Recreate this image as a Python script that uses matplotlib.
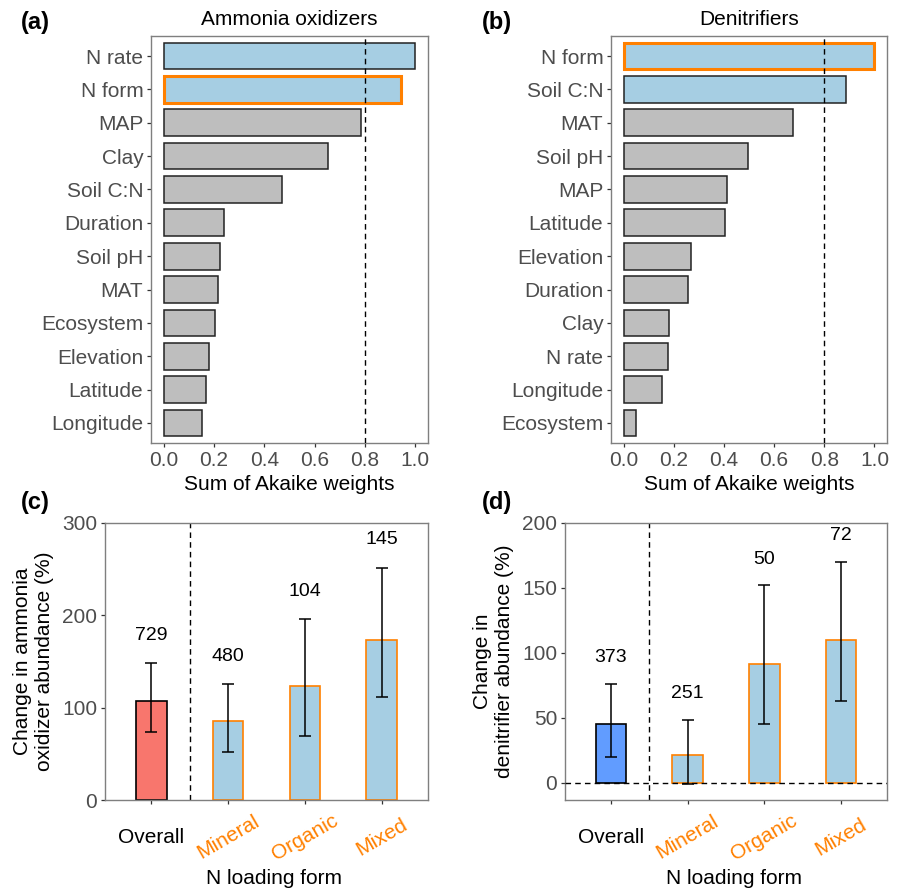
import matplotlib
matplotlib.use("Agg")
import matplotlib.pyplot as plt
import numpy as np

plt.rcParams['font.family'] = ['Liberation Sans', 'DejaVu Sans']

# ---------------- data ----------------
a_vars = ["N rate", "N form", "MAP", "Clay", "Soil C:N", "Duration", "Soil pH",
          "MAT", "Ecosystem", "Elevation", "Latitude", "Longitude"]
a_vals = [1.00, 0.943, 0.784, 0.654, 0.471, 0.241, 0.224, 0.216, 0.203, 0.180, 0.169, 0.154]

b_vars = ["N form", "Soil C:N", "MAT", "Soil pH", "MAP", "Latitude", "Elevation",
          "Duration", "Clay", "N rate", "Longitude", "Ecosystem"]
b_vals = [1.00, 0.885, 0.675, 0.498, 0.413, 0.406, 0.269, 0.258, 0.183, 0.176, 0.153, 0.049]

forms = ["Overall", "Mineral", "Organic", "Mixed"]
c_mean = [107.5, 85.9, 123.8, 173.0]
c_low = [73.3, 52.3, 69.3, 111.2]
c_high = [148.4, 125.3, 195.7, 251.6]
c_n = ["729", "480", "104", "145"]

d_mean = [45.0, 21.4, 91.4, 109.7]
d_low = [19.6, -0.5, 45.3, 63.1]
d_high = [76.5, 48.7, 152.0, 170.0]
d_n = ["373", "251", "50", "72"]

# ---------------- style ----------------
W, H = 901, 890
GREY = '#BEBEBE'
LBLUE = '#A6CEE3'
ORANGE = '#FF8000'
TICKC = '#4D4D4D'
SPINE = '#7F7F7F'
FS = 15

fig = plt.figure(figsize=(W / 100, H / 100), dpi=100)


def px_axes(x0, y0, x1, y1):
    return fig.add_axes([x0 / W, 1 - y1 / H, (x1 - x0) / W, (y1 - y0) / H])


def style_axes(ax):
    for s in ax.spines.values():
        s.set_color(SPINE)
        s.set_linewidth(1.0)
    ax.tick_params(length=3, width=0.9, color='#333333', labelcolor=TICKC,
                   labelsize=FS, pad=2.5)


def akaike_panel(ax, vars_, vals, title):
    pos = np.arange(len(vars_))
    colors = [LBLUE if v >= 0.8 else GREY for v in vals]
    bars = ax.barh(pos, vals, height=0.8, color=colors, edgecolor='#222222',
                   linewidth=1.1, zorder=2)
    for b, name in zip(bars, vars_):
        if name == "N form":
            b.set_edgecolor(ORANGE)
            b.set_linewidth(2.2)
            b.set_zorder(3)
    ax.axvline(0.8, color='black', linestyle=(0, (4, 3)), linewidth=1.0, zorder=4)
    ax.set_yticks(pos)
    ax.set_yticklabels(vars_)
    ax.set_ylim(len(vars_) - 0.4, -0.6)
    ax.set_xlim(-0.05, 1.05)
    ax.set_xticks([0, 0.2, 0.4, 0.6, 0.8, 1.0])
    ax.set_xticklabels(["0.0", "0.2", "0.4", "0.6", "0.8", "1.0"])
    style_axes(ax)
    ax.set_title(title, fontsize=FS, pad=8)
    ax.set_xlabel("Sum of Akaike weights", fontsize=FS)
    ax.xaxis.set_label_coords(0.5, -(485 - 443) / 407)
    ax.xaxis.label.set_va('center')


axa = px_axes(151, 36, 428, 443)
akaike_panel(axa, a_vars, a_vals, "Ammonia oxidizers")
axb = px_axes(611, 36, 887, 443)
akaike_panel(axb, b_vars, b_vals, "Denitrifiers")


def effect_panel(ax, mean, low, high, ns, overall_color, ylim, yticks, ylabel,
                 ylabel_x, zero_line):
    x = np.arange(len(forms))
    fc = [overall_color] + [LBLUE] * (len(forms) - 1)
    ec = ['black'] + [ORANGE] * (len(forms) - 1)
    ax.bar(x, mean, width=0.4, color=fc, edgecolor=ec, linewidth=1.2, zorder=2)
    yerr = [np.array(mean) - np.array(low), np.array(high) - np.array(mean)]
    ax.errorbar(x, mean, yerr=yerr, fmt='none', ecolor='black', elinewidth=1.1,
                capsize=4.5, capthick=1.1, zorder=4)
    off = 0.1 * ylim[1]
    for xi, hi, n in zip(x, high, ns):
        ax.text(xi, hi + off, n, ha='center', va='center', fontsize=14, color='black')
    ax.axvline(0.5, color='black', linestyle=(0, (4, 3)), linewidth=1.0, zorder=1)
    if zero_line:
        ax.axhline(0, color='black', linestyle=(0, (4, 3)), linewidth=1.0, zorder=3)
    ax.set_xlim(-0.6, len(forms) - 0.4)
    ax.set_ylim(*ylim)
    ax.set_yticks(yticks)
    style_axes(ax)
    ax.set_xticks(x)
    ax.set_xticklabels(forms)
    ax.tick_params(axis='x', pad=23.8)
    for i, lab in enumerate(ax.get_xticklabels()):
        lab.set_va('center')
        lab.set_ha('center')
        if i == 0:
            lab.set_color('black')
        else:
            lab.set_color(ORANGE)
            lab.set_rotation(30)
    ax.set_ylabel(ylabel, fontsize=FS, linespacing=1.2)
    ax.yaxis.set_label_coords(ylabel_x, 0.5)
    ax.yaxis.label.set_va('center')
    ax.set_xlabel("N loading form", fontsize=FS)
    ax.xaxis.set_label_coords(2.2 / 4.2, -(878 - 800) / 277)
    ax.xaxis.label.set_va('center')


axc = px_axes(105, 523, 428, 800)
effect_panel(axc, c_mean, c_low, c_high, c_n, '#F8766D', (0, 300), [0, 100, 200, 300],
             "Change in ammonia\noxidizer abundance (%)", (34 - 105) / 323, False)
axd = px_axes(565, 523, 887, 800)
effect_panel(axd, d_mean, d_low, d_high, d_n, '#619CFF', (-13.1, 200), [0, 50, 100, 150, 200],
             "Change in\ndenitrifier abundance (%)", (493 - 565) / 322, True)

# panel labels
for lab, (px, py) in zip(["(a)", "(b)", "(c)", "(d)"],
                         [(35, 23), (497, 23), (35, 503), (497, 503)]):
    fig.text(px / W, 1 - py / H, lab, fontsize=17, fontweight='bold',
             ha='center', va='center')

fig.savefig("out.png", dpi=100)
